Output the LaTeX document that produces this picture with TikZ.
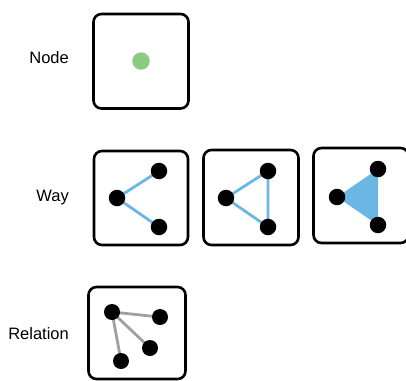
\documentclass[tikz,border=0pt]{standalone}
\usepackage{fontspec}
\setmainfont{Liberation Sans}
\usetikzlibrary{backgrounds}
\definecolor{dotgreen}{RGB}{141,203,130}
\definecolor{wayblue}{RGB}{107,183,228}
\definecolor{relgrey}{RGB}{160,160,160}
\begin{document}
\begin{tikzpicture}[x=1pt,y=-1pt,
  frame/.style={draw=black,line width=2.6pt,rounded corners=8pt,inner sep=0pt,outer sep=0pt},
  dot/.style={circle,fill=black,inner sep=0pt,minimum size=16.5pt},
  rdot/.style={circle,fill=black,inner sep=0pt,minimum size=16pt},
  gdot/.style={circle,fill=dotgreen,inner sep=0pt,minimum size=17.5pt},
  lbl/.style={font=\fontsize{16.5}{19}\selectfont,anchor=base east,inner sep=0pt},
  wayedge/.style={wayblue,line width=2.8pt},
  reledge/.style={relgrey,line width=2.8pt}]
\useasboundingbox (0,0) rectangle (406,380);
\clip (0,0) rectangle (406,380);
% labels
\node[lbl] (lnode) at (69,63) {Node};
\node[lbl] (lway) at (69,201.5) {Way};
\node[lbl] (lrel) at (69,339) {Relation};
% frames
\node[frame,minimum width=95pt,minimum height=94.5pt] (fnode) at (141,61.25) {};
\node[frame,minimum width=94pt,minimum height=94pt] (fway1) at (141,198) {};
\node[frame,minimum width=95pt,minimum height=95pt] (fway2) at (251,197.5) {};
\node[frame,minimum width=95pt,minimum height=95pt] (fway3) at (361,195.5) {};
\node[frame,minimum width=97pt,minimum height=92pt] (frel) at (137,333) {};
% node
\node[gdot] (g) at (141,61) {};
% way 1
\node[dot] (a1) at (117,198) {};
\node[dot] (b1) at (159,171) {};
\node[dot] (c1) at (159,227) {};
% way 2
\node[dot] (a2) at (226,198) {};
\node[dot] (b2) at (268,171) {};
\node[dot] (c2) at (268,227) {};
% way 3
\node[dot] (a3) at (337,197) {};
\node[dot] (b3) at (378,169) {};
\node[dot] (c3) at (378,225) {};
% relation
\node[rdot] (r1) at (112,312) {};
\node[rdot] (r2) at (160,317) {};
\node[rdot] (r3) at (150,348) {};
\node[rdot] (r4) at (121,361) {};
\begin{scope}[on background layer]
\draw[wayedge] (a1.center) -- (b1.center);
\draw[wayedge] (a1.center) -- (c1.center);
\draw[wayedge] (a2.center) -- (b2.center) -- (c2.center) -- cycle;
\fill[wayblue] (a3.center) -- (b3.center) -- (c3.center) -- cycle;
\draw[reledge] (r1.center) -- (r2.center);
\draw[reledge] (r1.center) -- (r3.center);
\draw[reledge] (r1.center) -- (r4.center);
\end{scope}
\end{tikzpicture}
\end{document}
